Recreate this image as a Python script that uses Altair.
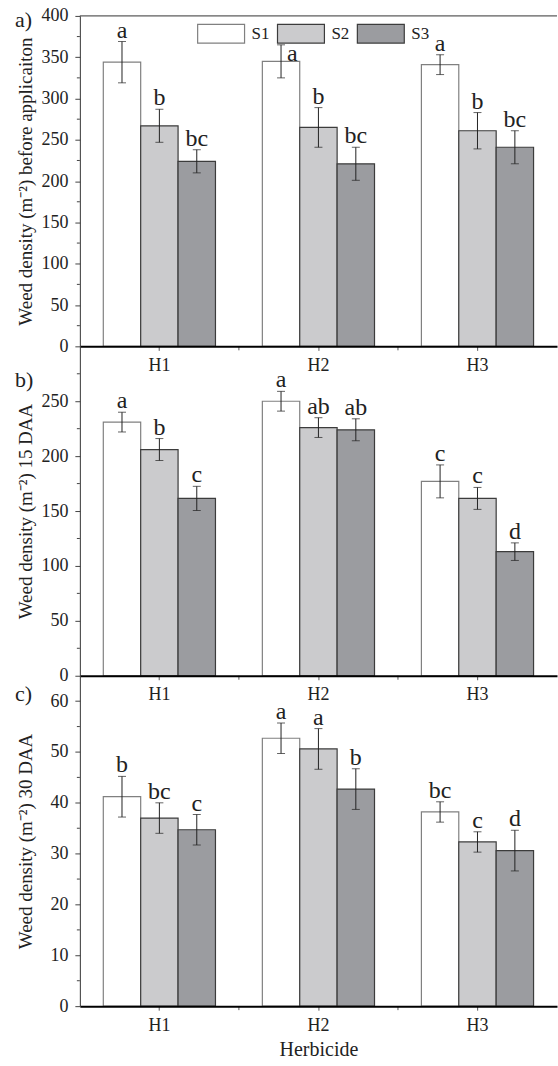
import altair as alt
import pandas as pd

herbicides = ["H1", "H2", "H3"]
series = ["S1", "S2", "S3"]

# panel a) before application
a_mean = [344, 267, 224, 345, 265, 221, 341, 261, 241]
a_err = [25, 20, 14, 20, 24, 20, 12, 22, 20]
a_lab = ["a", "b", "bc", "a", "b", "bc", "a", "b", "bc"]
# panel b) 15 DAA
b_mean = [231, 206, 161.5, 250, 226, 224, 177, 161.5, 113]
b_err = [9, 10, 11, 9, 9, 10, 15, 10, 8]
b_lab = ["a", "b", "c", "a", "ab", "ab", "c", "c", "d"]
# panel c) 30 DAA
c_mean = [41.2, 37.0, 34.7, 52.7, 50.6, 42.7, 38.2, 32.3, 30.6]
c_err = [4, 3, 3, 3, 4, 4, 2, 2, 4]
c_lab = ["b", "bc", "c", "a", "a", "b", "bc", "c", "d"]

fills = ["#ffffff", "#cbcbcd", "#9b9ca0"]
strokes = ["#808080", "#3c3c3c", "#3c3c3c"]

FONT = "Liberation Serif"
W = 478


def make_df(mean, err, lab):
    rows = []
    i = 0
    for h in herbicides:
        for s in series:
            rows.append({"H": h, "S": s, "mean": mean[i], "lo": mean[i] - err[i],
                         "hi": mean[i] + err[i], "lab": lab[i]})
            i += 1
    return pd.DataFrame(rows)


def panel(mean, err, lab, ymax, major, minor, ytitle, letter, letter_y, height,
          legend=False, xtitle=None, side_label=None, top_line=False):
    df = make_df(mean, err, lab)
    xaxis = alt.Axis(title=xtitle, labelAngle=0, labelFont=FONT, labelFontSize=18,
                     labelColor="#222", tickSize=4, tickColor="#555",
                     domainColor="#000", domainWidth=2, labelPadding=6,
                     titleFont=FONT, titleFontSize=20, titleFontWeight="normal",
                     titleColor="#222", titlePadding=5, zindex=1)
    yaxis = alt.Axis(title=ytitle, values=major, labelFont=FONT, labelFontSize=18,
                     labelColor="#222", tickSize=5, tickColor="#444",
                     domainColor="#333", domainWidth=1, labelPadding=7,
                     titleFont=FONT, titleFontSize=19, titleFontWeight="normal",
                     titleColor="#222", titleX=-44, titleY=height / 2,
                     grid=False, zindex=1)
    xscale = alt.Scale(paddingInner=0, paddingOuter=0)
    xenc = alt.X("H:N", sort=herbicides, scale=xscale, axis=xaxis)
    xoff = alt.XOffset("S:N", sort=series,
                       scale=alt.Scale(paddingInner=0, paddingOuter=0.627))
    yscale = alt.Scale(domain=[0, ymax], nice=False, zero=True)

    if legend:
        leg = alt.Legend(title=None, orient="none", legendX=117, legendY=-7,
                         direction="horizontal", columns=3,
                         symbolType="M-1,-0.4H1V0.4H-1Z", symbolSize=2209,
                         symbolStrokeColor="#444", symbolStrokeWidth=1.2,
                         labelFont=FONT, labelFontSize=17, labelColor="#222",
                         labelOffset=6, columnPadding=5, padding=0)
    else:
        leg = None
    fill = alt.Fill("S:N", sort=series, scale=alt.Scale(domain=series, range=fills), legend=leg)
    stroke = alt.Stroke("S:N", sort=series, scale=alt.Scale(domain=series, range=strokes), legend=None)

    base = alt.Chart(df)
    bars = base.mark_bar(strokeWidth=1.2).encode(
        x=xenc, xOffset=xoff, y=alt.Y("mean:Q", scale=yscale, axis=yaxis),
        fill=fill, stroke=stroke)
    ebar = base.mark_rule(color="#222", strokeWidth=1).encode(
        x=xenc, xOffset=xoff, y=alt.Y("lo:Q", axis=yaxis), y2="hi:Q")
    cap_hi = base.mark_tick(color="#222", orient="horizontal", size=8, thickness=1).encode(
        x=xenc, xOffset=xoff, y=alt.Y("hi:Q", axis=yaxis))
    cap_lo = base.mark_tick(color="#222", orient="horizontal", size=8, thickness=1).encode(
        x=xenc, xOffset=xoff, y=alt.Y("lo:Q", axis=yaxis))

    if side_label is not None:
        cond = f"datum.H == '{side_label[0]}' && datum.S == '{side_label[1]}'"
        txt_base = base.transform_filter(f"!({cond})")
        side = base.transform_filter(cond).mark_text(
            font=FONT, fontSize=24, color="#222", align="left", baseline="top", dx=6, dy=-3).encode(
            x=xenc, xOffset=xoff, y=alt.Y("hi:Q", axis=yaxis), text="lab:N")
    else:
        txt_base = base
        side = None
    labels = txt_base.mark_text(font=FONT, fontSize=24, color="#222", baseline="alphabetic", dy=-4).encode(
        x=xenc, xOffset=xoff, y=alt.Y("hi:Q", axis=yaxis), text="lab:N")

    minor_df = pd.DataFrame({"v": minor})
    minor_ticks = alt.Chart(minor_df).mark_rule(color="#444").encode(
        y=alt.Y("v:Q", axis=yaxis), x=alt.value(-3), x2=alt.value(0))

    bnd_df = pd.DataFrame({"H": herbicides[1:]})
    bnd_ticks = alt.Chart(bnd_df).mark_rule(color="#555").encode(
        x=alt.X("H:N", sort=herbicides, bandPosition=0, scale=xscale, axis=xaxis),
        y=alt.value(height), y2=alt.value(height + 4))

    letter_mark = alt.Chart(pd.DataFrame({"t": [letter]})).mark_text(
        font=FONT, fontSize=22, color="#222", align="left", baseline="middle").encode(
        text="t:N", x=alt.value(-65), y=alt.value(letter_y))

    layers = [bars, ebar, cap_hi, cap_lo, labels]
    if side is not None:
        layers.append(side)
    layers += [minor_ticks, bnd_ticks, letter_mark]
    if top_line:
        frame_top = alt.Chart(pd.DataFrame({"t": [0]})).mark_rule(color="#333", strokeWidth=1).encode(
            x=alt.value(0), x2=alt.value(W), y=alt.value(0))
        layers.append(frame_top)
    return alt.layer(*layers).properties(width=W, height=height)


pa = panel(a_mean, a_err, a_lab, 400, list(range(0, 401, 50)), list(range(25, 400, 50)),
           "Weed density (m⁻²) before applicaiton", "a)", 4, 331, legend=True,
           side_label=("H2", "S1"), top_line=True)
pb = panel(b_mean, b_err, b_lab, 300, list(range(0, 251, 50)), list(range(25, 300, 50)),
           "Weed density (m⁻²) 15 DAA", "b)", 34, 330)
pc = panel(c_mean, c_err, c_lab, 65, list(range(0, 61, 10)), list(range(5, 65, 10)),
           "Weed density (m⁻²) 30 DAA", "c)", 18, 331, xtitle="Herbicide")

chart = alt.vconcat(pa, pb, pc, spacing=0, bounds="flush").resolve_scale(
    fill="independent", stroke="independent", x="independent", y="independent"
).configure(
    padding={"left": 15, "top": 6, "right": 0, "bottom": 0},
    background="white",
).configure_view(stroke=None)

chart.save("out.html", embed_options={"renderer": "svg", "actions": False})
